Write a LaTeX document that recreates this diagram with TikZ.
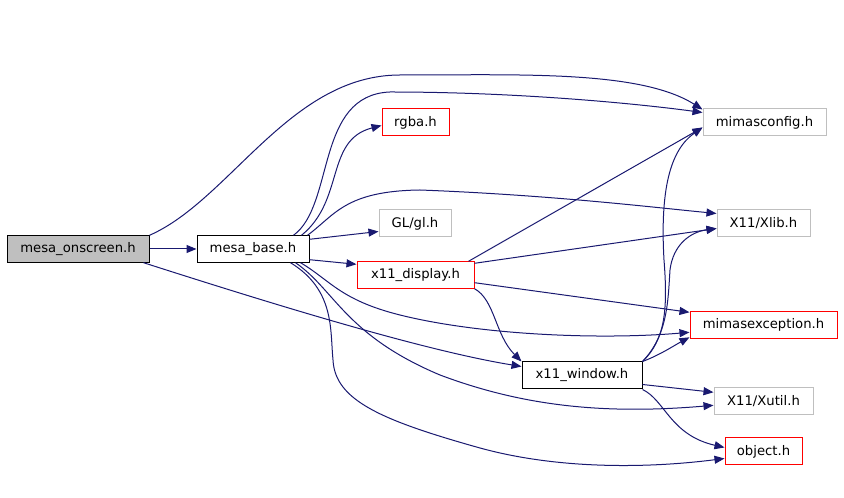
\documentclass[tikz,border=0pt]{standalone}
\usepackage{fontspec}
\setmainfont{DejaVu Sans}
\usetikzlibrary{arrows.meta,calc}
\definecolor{edgeblue}{RGB}{25,25,112}
\definecolor{greyline}{RGB}{191,191,191}
\definecolor{redline}{RGB}{255,0,0}
\tikzset{
  box/.style={draw, inner sep=0pt, minimum height=19.8pt, font=\fontsize{9.9pt}{11.5pt}\selectfont, line width=0.75pt},
  blackbox/.style={box, draw=black},
  redbox/.style={box, draw=redline},
  greybox/.style={box, draw=greyline},
  dep/.style={draw=edgeblue, line width=0.75pt, -{Triangle[length=7.5pt,width=6pt]}, fill=none},
}
\begin{document}
\begin{tikzpicture}[x=0.75pt,y=-0.75pt]
\useasboundingbox (0,0) rectangle (844,498);
% nodes
\node[blackbox, fill=greyline, minimum width=106.5pt] (onscreen) at (78,249) {mesa\_onscreen.h};
\node[blackbox, minimum width=84pt] (base) at (253,249) {mesa\_base.h};
\node[redbox, minimum width=50.25pt, minimum height=20.25pt] (rgba) at (415.5,122.5) {rgba.h};
\node[greybox, minimum width=54pt, minimum height=20.25pt] (gl) at (415,223.5) {GL/gl.h};
\node[redbox, minimum width=87.75pt] (display) at (415.5,275) {x11\_display.h};
\node[greybox, minimum width=92.25pt, minimum height=20.25pt] (config) at (764.5,122.5) {mimasconfig.h};
\node[greybox, minimum width=69.75pt, minimum height=20.25pt] (xlib) at (763.5,223.5) {X11/Xlib.h};
\node[redbox, minimum width=110.25pt] (exception) at (763.5,325) {mimasexception.h};
\node[blackbox, minimum width=90pt, minimum height=20.25pt] (window) at (582,375.5) {x11\_window.h};
\node[greybox, minimum width=74.25pt] (xutil) at (763.5,401) {X11/Xutil.h};
\node[redbox, minimum width=57.75pt, minimum height=20.25pt] (object) at (763.5,451.5) {object.h};
% edges from mesa_onscreen.h
\draw[dep] (onscreen.east) -- (base.west);
\draw[dep] (onscreen.north east) .. controls (230,200) and (290,75) .. (400,75)
  .. controls (520,75) and (640,70) .. ($(config.north west)+(0,1)$);
\draw[dep] ($(onscreen.south east)+(-6,0)$) .. controls (260,300) and (420,350) .. ($(window.north west)+(0,5)$);
% edges from mesa_base.h
\draw[dep] ($(base.north east)+(-16,0)$) .. controls (335,205) and (315,95) .. (390,92)
  .. controls (520,92) and (640,104) .. ($(config.north west)+(0,4)$);
\draw[dep] ($(base.north east)+(-8,0)$) .. controls (345,200) and (325,140) .. ($(rgba.north west)+(0,17)$);
\draw[dep] ($(base.north east)+(-2,0)$) .. controls (335,215) and (345,191) .. (420,190)
  .. controls (550,195) and (650,207) .. ($(xlib.north west)+(0,4)$);
\draw[dep] ($(base.north east)+(0,4)$) -- ($(gl.north west)+(0,22)$);
\draw[dep] ($(base.south east)+(0,-3)$) -- ($(display.north west)+(0,3)$);
\draw[dep] ($(base.south east)+(-9,0)$) .. controls (330,280) and (340,300) .. (400,315)
  .. controls (480,335) and (600,340) .. ($(exception.north west)+(0,21)$);
\draw[dep] ($(base.south east)+(-14,0)$) .. controls (335,290) and (345,335) .. (440,375)
  .. controls (520,405) and (600,415) .. ($(xutil.north west)+(0,18)$);
\draw[dep] ($(base.south east)+(-19,0)$) .. controls (335,290) and (330,330) .. (333,360)
  .. controls (335,400) and (380,420) .. (480,448)
  .. controls (560,470) and (650,468) .. ($(object.north west)+(0,21)$);
% edges from x11_display.h
\draw[dep] ($(display.north east)+(-6,0)$) -- ($(config.north west)+(0,19)$);
\draw[dep] ($(display.north east)+(0,2)$) -- ($(xlib.north west)+(0,19)$);
\draw[dep] ($(display.south east)+(0,-6)$) -- ($(exception.north west)+(0,1)$);
\draw[dep] (display.south east) .. controls (495,300) and (495,335) .. (window.north west);
% edges from x11_window.h
\draw[dep] (window.north east) .. controls (665,340) and (668,310) .. (664,260)
  .. controls (660,190) and (670,150) .. ($(config.north west)+(0,19)$);
\draw[dep] (window.north east) .. controls (668,335) and (668,300) .. (670,270)
  .. controls (673,245) and (690,232) .. ($(xlib.north west)+(0,19)$);
\draw[dep] (window.north east) .. controls (660,355) and (675,345) .. ($(exception.north west)+(0,26)$);
\draw[dep] ($(window.south east)+(0,-5)$) -- ($(xutil.north west)+(0,5)$);
\draw[dep] (window.south east) .. controls (665,400) and (670,435) .. ($(object.north west)+(0,10)$);
\end{tikzpicture}
\end{document}
